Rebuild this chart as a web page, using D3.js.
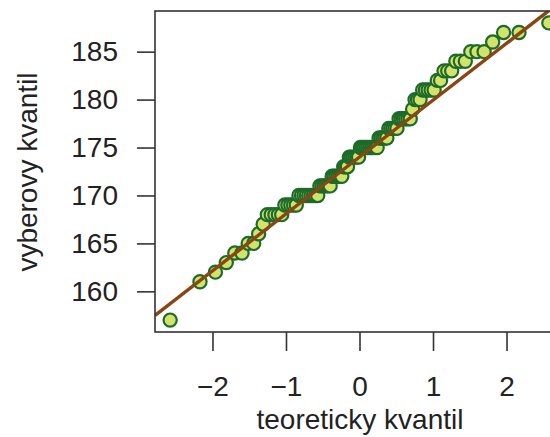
<!DOCTYPE html>
<html>
<head>
<meta charset="utf-8">
<script src="https://cdn.jsdelivr.net/npm/d3@7"></script>
<style>
  body { margin: 0; background: #fff; }
  svg { display: block; overflow: hidden; }
  text { font-family: "Liberation Sans", Arial, sans-serif; fill: #222; }
</style>
</head>
<body>
<svg width="550" height="437"></svg>
<script>
// sorted sample (vyska)
const sample = [
  157, 161, 162, 163, 164, 164, 165, 165, 166, 167,
  168, 168, 168, 168, 168, 169, 169, 169, 169, 169,
  170, 170, 170, 170, 170, 170, 170, 170, 170, 171,
  171, 171, 171, 171, 171, 172, 172, 172, 172, 172,
  172, 173, 173, 173, 174, 174, 174, 174, 174, 174,
  175, 175, 175, 175, 175, 175, 175, 175, 175, 175,
  176, 176, 176, 176, 176, 177, 177, 177, 177, 177,
  178, 178, 178, 178, 178, 178, 179, 180, 180, 180,
  181, 181, 181, 181, 181, 182, 182, 183, 183, 183,
  184, 184, 184, 185, 185, 185, 186, 187, 187, 188
];
const xTicks = [-2, -1, 0, 1, 2];
const yTicks = [160, 165, 170, 175, 180, 185];

const svg = d3.select("svg"),
      width = +svg.attr("width"),
      height = +svg.attr("height");

const box = { left: 155, right: 564, top: 11, bottom: 332 };

// inverse normal cdf (Acklam)
function qnorm(p) {
  const a = [-3.969683028665376e+01, 2.209460984245205e+02, -2.759285104469687e+02, 1.383577518672690e+02, -3.066479806614716e+01, 2.506628277459239e+00],
        b = [-5.447609879822406e+01, 1.615858368580409e+02, -1.556989798598866e+02, 6.680131188771972e+01, -1.328068155288572e+01],
        c = [-7.784894002430293e-03, -3.223964580411365e-01, -2.400758277161838e+00, -2.549732539343734e+00, 4.374664141464968e+00, 2.938163982698783e+00],
        d = [7.784695709041462e-03, 3.224671290700398e-01, 2.445134137142996e+00, 3.754408661907416e+00];
  const plow = 0.02425;
  let q, r;
  if (p < plow) {
    q = Math.sqrt(-2 * Math.log(p));
    return (((((c[0]*q+c[1])*q+c[2])*q+c[3])*q+c[4])*q+c[5]) / ((((d[0]*q+d[1])*q+d[2])*q+d[3])*q+1);
  } else if (p <= 1 - plow) {
    q = p - 0.5; r = q * q;
    return (((((a[0]*r+a[1])*r+a[2])*r+a[3])*r+a[4])*r+a[5])*q / (((((b[0]*r+b[1])*r+b[2])*r+b[3])*r+b[4])*r+1);
  }
  q = Math.sqrt(-2 * Math.log(1 - p));
  return -(((((c[0]*q+c[1])*q+c[2])*q+c[3])*q+c[4])*q+c[5]) / ((((d[0]*q+d[1])*q+d[2])*q+d[3])*q+1);
}

const n = sample.length;
const points = sample.map((v, i) => ({ x: qnorm((i + 1 - 0.5) / n), y: v }));

// R style 4% padding
function pad(ext) { const e = (ext[1] - ext[0]) * 0.04; return [ext[0] - e, ext[1] + e]; }

const x = d3.scaleLinear().domain(pad(d3.extent(points, d => d.x))).range([box.left, box.right]);
const y = d3.scaleLinear().domain(pad(d3.extent(points, d => d.y))).range([box.bottom, box.top]);

// qqline through the quartiles
const q1 = d3.quantile(sample, 0.25), q3 = d3.quantile(sample, 0.75);
const slope = (q3 - q1) / (qnorm(0.75) - qnorm(0.25));
const intercept = q1 - slope * qnorm(0.25);

svg.append("clipPath").attr("id", "plotclip")
  .append("rect")
  .attr("x", box.left).attr("y", box.top)
  .attr("width", box.right - box.left).attr("height", box.bottom - box.top);

svg.append("g").selectAll("circle")
  .data(points)
  .enter().append("circle")
  .attr("cx", d => x(d.x))
  .attr("cy", d => y(d.y))
  .attr("r", 6.6)
  .attr("fill", "#d3e26b")
  .attr("stroke", "#1d6b2a")
  .attr("stroke-width", 2.2);

const xd = x.domain();
svg.append("line")
  .attr("clip-path", "url(#plotclip)")
  .attr("x1", x(xd[0])).attr("y1", y(intercept + slope * xd[0]))
  .attr("x2", x(xd[1])).attr("y2", y(intercept + slope * xd[1]))
  .attr("stroke", "#8b4513")
  .attr("stroke-width", 3.4);

svg.append("rect")
  .attr("x", box.left).attr("y", box.top)
  .attr("width", box.right - box.left).attr("height", box.bottom - box.top)
  .attr("fill", "none")
  .attr("stroke", "#333")
  .attr("stroke-width", 1.6);

const fs = 28;

const xAxis = svg.append("g")
  .attr("transform", `translate(0,${box.bottom})`)
  .call(d3.axisBottom(x).tickValues(xTicks).tickFormat(d3.format("d"))
    .tickSize(19).tickSizeOuter(0).tickPadding(25));
const yAxis = svg.append("g")
  .attr("transform", `translate(${box.left},0)`)
  .call(d3.axisLeft(y).tickValues(yTicks).tickFormat(d3.format("d"))
    .tickSize(18).tickSizeOuter(0).tickPadding(19));

[xAxis, yAxis].forEach(g => {
  g.select(".domain").remove();
  g.selectAll(".tick line").attr("stroke", "#333").attr("stroke-width", 1.6);
  g.selectAll(".tick text")
    .style("font-family", '"Liberation Sans", Arial, sans-serif')
    .style("font-size", fs + "px")
    .attr("fill", "#222");
});

svg.append("text")
  .attr("x", 360).attr("y", 429)
  .attr("text-anchor", "middle")
  .style("font-size", fs + "px")
  .text("teoreticky kvantil");

svg.append("text")
  .attr("transform", "translate(37,172) rotate(-90)")
  .attr("text-anchor", "middle")
  .style("font-size", fs + "px")
  .text("vyberovy kvantil");
</script>
</body>
</html>
